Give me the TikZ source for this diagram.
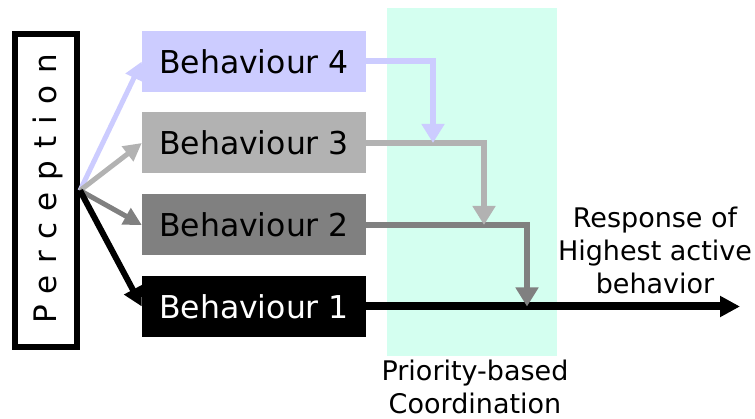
\documentclass[tikz,border=0pt]{standalone}
\usepackage{fontspec}
\setmainfont{DejaVu Sans}
\usetikzlibrary{arrows.meta}
\definecolor{lav}{RGB}{204,204,255}
\definecolor{lgray}{RGB}{178,178,178}
\definecolor{dgray}{RGB}{128,128,128}
\definecolor{mint}{RGB}{212,255,240}
\tikzset{
  behbox/.style={rectangle, inner sep=0pt, minimum width=224pt, minimum height=61pt,
    font=\fontsize{31.5}{36}\selectfont},
  fanarrow/.style={line width=5pt, -{Triangle[length=18pt,width=18pt]}},
  merge/.style={line width=6pt, -{Triangle[length=19pt,width=22pt]}},
  label/.style={align=center, font=\fontsize{27}{33}\selectfont}
}
\begin{document}
\begin{tikzpicture}[x=1pt,y=-1pt]
\useasboundingbox (0,0) rectangle (755,419);
% coordination band
\fill[mint] (387,8) rectangle (557,356);
% perception block
\node[draw, line width=6pt, rectangle, inner sep=0pt, minimum width=62pt, minimum height=313pt] (perc) at (46,190.5) {};
\node[rotate=90, font=\fontsize{31}{36}\selectfont\addfontfeature{LetterSpace=38}] (perctext) at (48,189) {Perception};
% behaviours
\node[behbox, fill=lav] (b4) at (254,61.5) {Behaviour 4};
\node[behbox, fill=lgray] (b3) at (254,143) {Behaviour 3};
\node[behbox, fill=dgray] (b2) at (254,225) {Behaviour 2};
\node[behbox, fill=black, text=white] (b1) at (254,306.5) {Behaviour 1};
% fan-out from perception
\draw[fanarrow, lav] (perc.east) -- (b4.west);
\draw[fanarrow, lgray] (perc.east) -- (b3.west);
\draw[fanarrow, dgray] (perc.east) -- (b2.west);
\draw[line width=6pt, black, -{Triangle[length=19pt,width=19pt]}] (perc.east) -- (b1.west);
% merge points
\coordinate (m4) at (433,143);
\coordinate (m3) at (484,225);
\coordinate (m2) at (527,306.5);
\coordinate (out) at (740,306.5);
% output line
\draw[line width=8pt, black, -{Triangle[length=20pt,width=20pt]}] (b1.east) -- (out);
\draw[merge, dgray] (b2.east) -| (m2);
\draw[merge, lgray] (b3.east) -| (m3);
\draw[merge, lav] (b4.east) -| (m4);
% labels
\node[label] (resp) at (655,250) {Response of\\Highest active\\behavior};
\node[label] (coord) at (475,387) {Priority-based\\Coordination};
\end{tikzpicture}
\end{document}
